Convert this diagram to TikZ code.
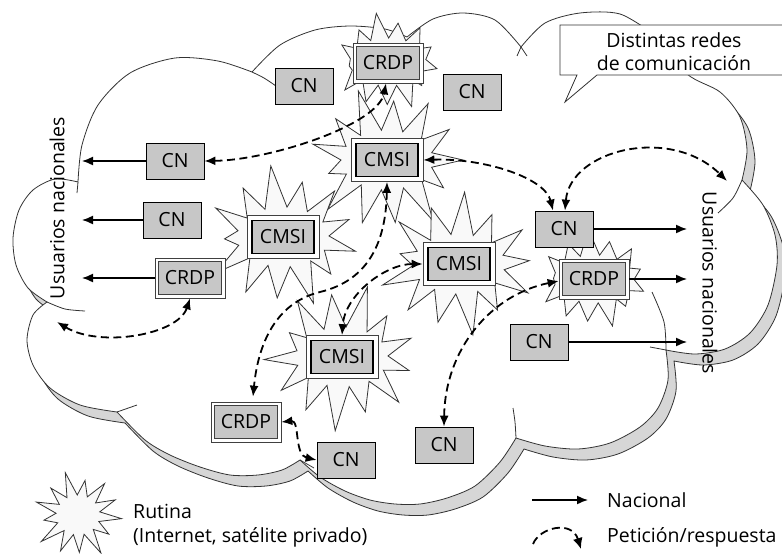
\documentclass[tikz,border=0pt]{standalone}
\usepackage{fontspec}
\setmainfont{Open Sans}
\usetikzlibrary{arrows.meta,calc}
\definecolor{boxgray}{gray}{0.78}
\definecolor{shadowgray}{gray}{0.84}
\definecolor{starfill}{gray}{0.975}
\newcommand\burst[7]{%
  \filldraw[starline]
    ({#1+.95*#3*cos(#7)},{#2+.95*#4*sin(#7)})
    \foreach \b/\a/\f in {14/28/.8, 41/55/1, 69/83/.85, 97/110/.9, 124/138/1, 152/166/.75, 180/193/.95, 207/221/.85, 235/249/1, 263/276/.8, 290/304/.92, 318/332/.88}
      { -- ({#1+#5*cos(\b+#7)},{#2+#6*sin(\b+#7)})
        -- ({#1+\f*#3*cos(\a+#7)},{#2+\f*#4*sin(\a+#7)}) }
    -- ({#1+#5*cos(346+#7)},{#2+#6*sin(346+#7)}) -- cycle;}
\newcommand\cloudshape{%
 plot[smooth] coordinates {(78,182) (82,145) (98,105) (130,73) (175,58) (218,61) (252,72)}
 -- plot[smooth] coordinates {(252,72) (280,45) (315,30) (350,26) (385,29) (407,37)}
 -- plot[smooth] coordinates {(407,37) (433,19) (463,13) (495,20) (521,47)}
 -- plot[smooth] coordinates {(521,47) (545,23) (580,13) (620,14) (655,35)}
 -- plot[smooth] coordinates {(655,35) (687,74) (720,92) (740,117) (747,150) (742,180)}
 -- plot[smooth] coordinates {(742,180) (763,205) (775,235) (777,265) (768,305) (750,333) (725,349) (695,354) (666,350)}
 -- plot[smooth] coordinates {(666,350) (668,380) (658,408) (640,427) (610,443) (578,449) (545,446) (516,438)}
 -- plot[smooth] coordinates {(516,438) (500,462) (475,486) (447,498) (420,504) (395,504) (370,500) (345,491) (320,477) (300,460)}
 -- plot[smooth] coordinates {(300,460) (282,470) (258,475) (230,475) (200,467) (170,455) (145,440) (117,412)}
 -- plot[smooth] coordinates {(117,412) (80,405) (50,388) (33,365) (27,340) (33,315) (47,302)}
 -- plot[smooth] coordinates {(47,302) (28,288) (16,265) (13,238) (19,210) (33,190) (55,179) (78,182)}
 -- cycle}
\tikzset{
 txt/.style={font=\fontsize{19.5}{23}\selectfont},
 lbl/.style={txt, inner sep=0pt},
 cnbox/.style={draw=black, line width=.8pt, fill=boxgray, minimum width=58pt, minimum height=36pt, inner sep=0pt, txt},
 crdpout/.style={draw=black!75, line width=.7pt, fill=white, minimum width=70pt, minimum height=40pt, inner sep=0pt},
 crdpin/.style={draw=black!75, line width=.7pt, fill=boxgray, minimum width=63pt, minimum height=33pt, inner sep=0pt, txt},
 cmsiout/.style={draw=black!75, line width=.7pt, fill=white, minimum width=72pt, minimum height=43pt, inner sep=0pt},
 cmsiin/.style={draw=black, line width=1.8pt, fill=boxgray, minimum width=62pt, minimum height=33pt, inner sep=0pt, txt},
 starline/.style={draw=black!80, line width=.8pt, fill=starfill, line join=miter},
 cloudline/.style={draw=black!80, line width=.8pt},
 solidarr/.style={draw=black, line width=1.5pt, >={Latex[length=11pt,width=9pt]}, ->},
 dasharr/.style={draw=black, line width=1.8pt, dash pattern=on 8pt off 4.5pt, >={Latex[length=11pt,width=9pt]}, <->},
 dashone/.style={draw=black, line width=1.8pt, dash pattern=on 8pt off 4.5pt, >={Latex[length=11pt,width=10pt]}, ->},
}
\begin{document}
\begin{tikzpicture}[x=1pt,y=-1pt]
\useasboundingbox (0,0) rectangle (782,554);
% cloud
\filldraw[cloudline, fill=shadowgray, shift={(8,11)}] \cloudshape;
\filldraw[cloudline, fill=white] \cloudshape;
\draw[cloudline] (78,182) -- (77,193);
\draw[cloudline] plot[smooth] coordinates {(252,72) (264,78) (276,86)};
\draw[cloudline] plot[smooth] coordinates {(47,302) (65,309) (85,311)};
\draw[cloudline] (117,412) -- (137,405);
\draw[cloudline] (300,460) -- (314,468);
\draw[cloudline] plot[smooth] coordinates {(516,438) (515,422) (513,408)};
\draw[cloudline] plot[smooth] coordinates {(666,350) (664,322) (652,292)};
\draw[cloudline] (666,350) -- (650,347);
\draw[cloudline] plot[smooth] coordinates {(742,180) (733,198) (718,213)};
\draw[cloudline] (521,47) -- (527,56);
\draw[cloudline] (521,47) -- (517,56);
% stars
\burst{388}{62}{52}{50}{38}{24}{8}
\burst{387}{160}{80}{74}{46}{30}{0}
\burst{283}{237}{78}{72}{46}{30}{12}
\burst{459}{264}{80}{72}{46}{30}{25}
\burst{342}{357}{78}{74}{46}{30}{40}
\burst{594}{279}{54}{50}{40}{24}{15}
\burst{78}{515}{46}{44}{22}{20}{5}
% callout
\filldraw[cloudline, fill=white] (560,25) -- (790,25) -- (790,75) -- (597,75) -- (565,102) -- (577,75) -- (560,75) -- cycle;
\node[txt, align=center] (callt) at (674,52) {Distintas redes\\de comunicación};
% nodes
\node[cnbox] (cnT1) at (304,86) {CN};
\node[crdpout] (crdpT) at (388,63) {};
\node[crdpin] (crdpTi) at (388,63) {CRDP};
\node[cnbox] (cnT2) at (472,92) {CN};
\node[cnbox] (cnL1) at (175,161) {CN};
\node[cnbox] (cnL2) at (172,220) {CN};
\node[crdpout] (crdpL) at (190,278) {};
\node[crdpin] (crdpLi) at (190,278) {CRDP};
\node[cmsiout] (cmsiT) at (387,160) {};
\node[cmsiin] (cmsiTi) at (387,160) {CMSI};
\node[cmsiout] (cmsiL) at (283,237) {};
\node[cmsiin] (cmsiLi) at (283,237) {CMSI};
\node[cmsiout] (cmsiM) at (459,264) {};
\node[cmsiin] (cmsiMi) at (459,264) {CMSI};
\node[cmsiout] (cmsiB) at (342,357) {};
\node[cmsiin] (cmsiBi) at (342,357) {CMSI};
\node[crdpout] (crdpB) at (246,422) {};
\node[crdpin] (crdpBi) at (246,422) {CRDP};
\node[cnbox] (cnB1) at (346,460) {CN};
\node[cnbox] (cnB2) at (444,445) {CN};
\node[cnbox] (cnR1) at (564,229) {CN};
\node[crdpout] (crdpR) at (594,279) {};
\node[crdpin] (crdpRi) at (594,279) {CRDP};
\node[cnbox] (cnR2) at (539,342) {CN};
% free ends
\coordinate (uL1) at (82,161);
\coordinate (uL2) at (82,220);
\coordinate (uL3) at (82,278);
\coordinate (uL4) at (57,322);
\coordinate (uR1) at (727,181);
\coordinate (uR2) at (687,229);
\coordinate (uR3) at (687,279);
\coordinate (uR4) at (687,342);
% solid arrows
\draw[solidarr] (cnL1.west) -- (uL1);
\draw[solidarr] (cnL2.west) -- (uL2);
\draw[solidarr] (crdpL.west) -- (uL3);
\draw[solidarr] (cnR1.east) -- (uR2);
\draw[solidarr] (crdpR.east) -- (uR3);
\draw[solidarr] (cnR2.east) -- (uR4);
% dashed arrows
\draw[dasharr] (cnL1.east) .. controls (270,160) and (378,125) .. ($(crdpT.south)+(-2,0)$);
\draw[dasharr] (cmsiT.east) .. controls (485,158) and (545,178) .. ($(cnR1.north)+(-11,0)$);
\draw[dasharr] ($(cnR1.north)+(1,0)$) .. controls (570,150) and (670,125) .. (uR1);
\draw[dasharr] (cmsiT.south) .. controls (386,240) and (370,280) .. (320,292) .. controls (275,303) and (258,345) .. ($(crdpB.north)+(7,-5)$);
\draw[dasharr] (cmsiM.west) .. controls (385,264) and (345,295) .. (cmsiB.north);
\draw[dasharr] ($(crdpR.west)+(0,2)$) .. controls (490,295) and (445,350) .. (cnB2.north);
\draw[dasharr] (crdpL.south) .. controls (178,335) and (100,348) .. (uL4);
\draw[dasharr] (crdpB.east) .. controls (300,420) and (294,455) .. (cnB1.west);
% labels
\node[txt, rotate=90] (usrL) at (57,208) {Usuarios nacionales};
\node[txt, rotate=-90] (usrR) at (710,283) {Usuarios nacionales};
% legend
\node[lbl, anchor=base west] (rut1) at (133,518) {Rutina};
\node[lbl, anchor=base west] (rut2) at (133,542) {(Internet, satélite privado)};
\coordinate (lgA1) at (532,500);
\coordinate (lgA2) at (588,500);
\draw[solidarr] (lgA1) -- (lgA2);
\node[lbl, anchor=base west] (nac) at (607,507) {Nacional};
\coordinate (lgB1) at (533,544);
\coordinate (lgB2) at (581,549);
\draw[dashone] (lgB1) .. controls (540,527) and (572,520) .. (lgB2);
\node[lbl, anchor=base west] (pet) at (607,542) {Petición/respuesta};
\end{tikzpicture}
\end{document}
